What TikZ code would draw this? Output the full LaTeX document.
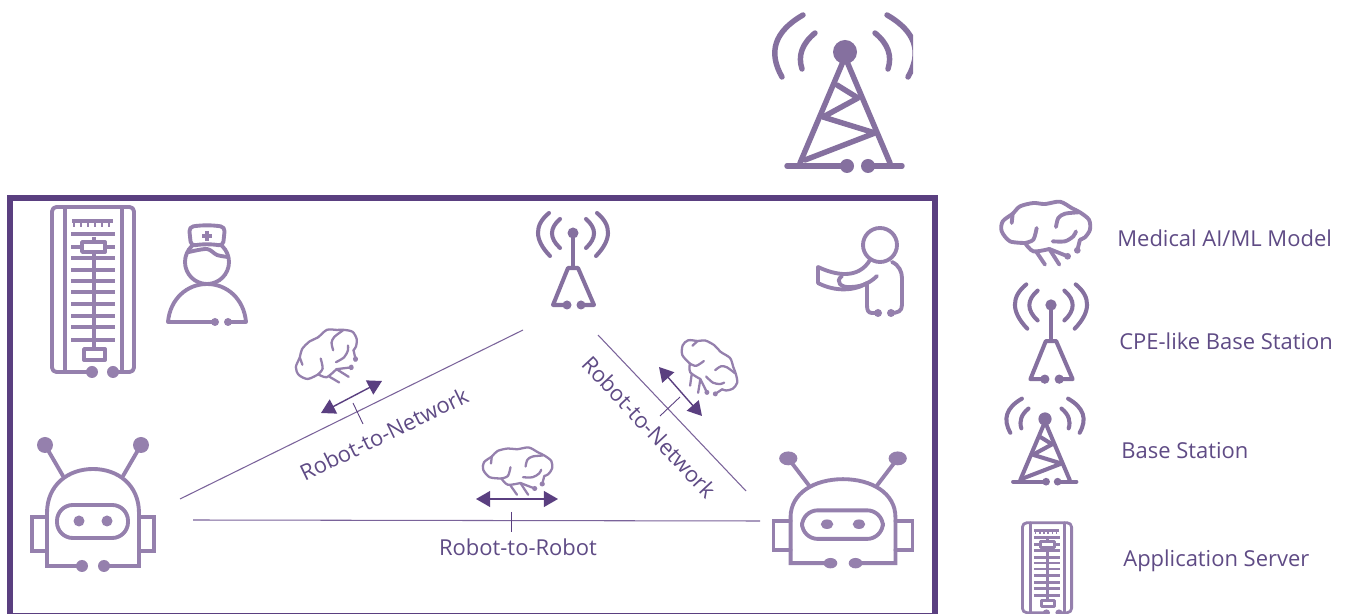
\documentclass[tikz,border=0pt]{standalone}
\usepackage{fontspec}
\setmainfont{Open Sans}
\usetikzlibrary{arrows.meta}
\definecolor{framepurple}{HTML}{5A3F80}
\definecolor{iconpurple}{HTML}{9580AD}
\definecolor{towerpurple}{HTML}{85709F}
\definecolor{textpurple}{HTML}{5F4B85}
\definecolor{linkpurple}{HTML}{7A639A}
\tikzset{
	iconline/.style={draw=iconpurple, line width=#1, line cap=round, line join=round},
	iconline/.default=2.2pt,
	towerline/.style={draw=towerpurple, line width=#1, line cap=round, line join=round},
	towerline/.default=2.2pt,
	linklabel/.style={text=textpurple, font=\fontsize{12.5}{15}\selectfont},
	legendlabel/.style={text=textpurple, font=\fontsize{12.5}{15}\selectfont, anchor=west, inner sep=0pt},
	linkline/.style={draw=linkpurple, line width=0.6pt},
	linktick/.style={draw=framepurple, line width=0.5pt},
	linkarrow/.style={draw=framepurple, line width=0.8pt, {Triangle[length=8pt,width=9pt]}-{Triangle[length=8pt,width=9pt]}},
	pics/bigtower/.style={code={
		\foreach \s in {-1,1} {
			\draw[towerline=#1] ({\s*30},-19) .. controls ({\s*43},-8.3) and ({\s*47.3},3.7) .. ({\s*43},17);
			\draw[towerline=#1] ({\s*42},-37) .. controls ({\s*71},-20.3) and ({\s*77},0.3) .. ({\s*63},25);
			\draw[towerline=#1] (0,5) -- ({\s*45},111);
		}
		\draw[towerline=#1] (-8,33) -- (13,46) -- (-22,65) -- (30,81) -- (-40,108);
		\draw[towerline=#1] (-58,114) -- (2,114);
		\draw[towerline=#1] (23,114) -- (57,114);
		\fill[towerpurple] (0,0) circle [radius=12];
		\fill[towerpurple] (2,114) circle [radius=7];
		\fill[towerpurple] (23,114) circle [radius=7];
	}},
	pics/cpetower/.style={code={
		\foreach \s in {-1,1} {
			\draw[towerline=2.3pt] ({\s*24},-20) .. controls ({\s*39},-7.7) and ({\s*38.7},6.7) .. ({\s*23},23);
			\draw[towerline=2.3pt] ({\s*13},-14) .. controls ({\s*23.7},-4.7) and ({\s*23.7},5) .. ({\s*13},15);
		}
		\draw[towerline=2.3pt] (0,0) -- (0,34);
		\draw[towerline=2.3pt] (-6,72) -- (-20,72) -- (-5,35) -- (5,35) -- (21,72) -- (8,72);
		\fill[towerpurple] (0,0) circle [radius=5.5];
		\fill[towerpurple] (-6,72) circle [radius=4.5];
		\fill[towerpurple] (8,72) circle [radius=4.5];
	}},
	pics/appserver/.style={code={
		\draw[iconline=#1, rounded corners=2.5pt] (-1,82) -- (-41,82) -- (-41,-83) -- (41,-83) -- (41,82) -- (20,82);
		\draw[iconline=#1] (-28,-83) -- (-28,82);
		\draw[iconline=#1] (29,-83) -- (29,82);
		\foreach \y in {-56,-43,-32,-20,-9,2,14,26,37,50} {
			\draw[iconline=#1, line cap=butt] (-22,\y) -- (22,\y);
		}
		\draw[iconline=#1, line cap=butt] (-21,-69) -- (20,-69);
		\foreach \x in {-19,-12,-5,2,9,16} {
			\draw[iconline=0.6*#1, line cap=butt] (\x,-69) -- (\x,-63);
		}
		\draw[iconline=#1, line cap=butt] (1,-53) -- (1,60);
		\filldraw[iconline=#1, fill=white] (-11,-48) rectangle (12,-38);
		\filldraw[iconline=#1, fill=white] (-9,59) rectangle (12,70);
		\fill[iconpurple] (-1,82) circle [radius=6];
		\fill[iconpurple] (20,82) circle [radius=6];
	}},
	pics/nurse/.style={code={
		\draw[iconline] (0,-13) circle [radius=22];
		\filldraw[iconline, fill=white, rounded corners=2.5pt] (-18,-48) .. controls (-5,-50) and (5,-50) .. (18,-48) -- (16,-29) .. controls (5,-31) and (-5,-31) .. (-16,-29) -- cycle;
		\draw[iconline] plot[smooth] coordinates {(-18,-23) (0,-26) (10,-20) (21,-18)};
		\draw[iconline, line width=2pt, line cap=butt] (-5,-39) -- (5,-39);
		\draw[iconline, line width=2pt, line cap=butt] (0,-44) -- (0,-34);
		\draw[iconline] (8,47) -- (-39,47) .. controls (-37,24) and (-20,9) .. (0,9) .. controls (20,9) and (37,24) .. (39,47) -- (21,47);
		\fill[iconpurple] (8,47) circle [radius=4];
		\fill[iconpurple] (21,47) circle [radius=4];
	}},
	pics/patient/.style={code={
		\draw[iconline] (0,0) circle [radius=17];
		\draw[iconline] (12,17) .. controls (19,20) and (22,27) .. (22,33) -- (22,60) .. controls (22,66) and (18,68) .. (11,68);
		\draw[iconline] (-2,68) -- (-8,68) .. controls (-12,68) and (-13,65) .. (-13,60) -- (-13,38) .. controls (-25,46) and (-45,47) .. (-62,38) -- (-62,22) .. controls (-45,30) and (-22,35) .. (-10,15);
		\draw[iconline] (-3,31) .. controls (-12,40) and (-22,42) .. (-30,42) .. controls (-38,43) and (-46,37) .. (-38,31);
		\fill[iconpurple] (11,68) circle [radius=4];
		\fill[iconpurple] (-2,68) circle [radius=4];
	}},
	pics/robot/.style={code={
		\draw[iconline, line join=miter, line cap=butt] (-11,51) -- (-46,51) -- (-46,-2) .. controls (-46,-30) and (-25,-46) .. (0,-46) .. controls (25,-46) and (46,-30) .. (46,-2) -- (46,51) -- (11,51);
		\draw[iconline, line join=miter] (-46,2) -- (-61,2) -- (-61,36) -- (-46,36);
		\draw[iconline, line join=miter] (46,2) -- (61,2) -- (61,36) -- (46,36);
		\draw[iconline, rounded corners=9pt] (-36,-10) rectangle (35,23);
		\draw[iconline] (-48,-70) -- (-30,-39);
		\draw[iconline] (48,-70) -- (30,-39);
		\fill[iconpurple] (-48,-70) circle [radius=8];
		\fill[iconpurple] (48,-70) circle [radius=8];
		\fill[iconpurple] (-14,6) circle [radius=5.5];
		\fill[iconpurple] (14,6) circle [radius=5.5];
		\fill[iconpurple] (-11,51) circle [radius=6];
		\fill[iconpurple] (11,51) circle [radius=6];
	}},
	pics/brain/.style={code={
		\begin{scope}[shift={(-165,-130)}]
			\draw[iconline=#1] plot[smooth] coordinates {(105,160) (60,155) (35,125) (38,95) (68,72) (90,50) (130,40) (165,43) (210,36) (245,55) (270,68) (297,90) (300,120) (285,143) (270,150)};
			\draw[iconline=#1] (270,150) -- (262,182);
			\draw[iconline=#1] (65,100) -- (68,72);
			\draw[iconline=#1] plot[smooth] coordinates {(105,160) (130,150) (140,115)};
			\draw[iconline=#1] plot[smooth] coordinates {(105,160) (130,185) (178,178)};
			\draw[iconline=#1] (178,178) -- (233,200);
			\draw[iconline=#1] (140,188) -- (165,225);
			\draw[iconline=#1] (178,178) -- (208,225);
			\draw[iconline=#1] plot[smooth] coordinates {(198,112) (205,85) (225,72) (265,68)};
			\draw[iconline=#1] plot[smooth] coordinates {(188,155) (225,155) (250,140) (258,125)};
			\fill[iconpurple] (262,182) circle [radius=10];
			\fill[iconpurple] (233,200) circle [radius=10];
		\end{scope}
	}},
}
\begin{document}
\begin{tikzpicture}[x=0.02cm, y=-0.02cm]
	\useasboundingbox (0,0) rectangle (1353,614);
	\fill[white] (0,0) rectangle (1353,614);
	% tower on top
	\begin{scope}
		\clip (700,13) rectangle (913,190);
		\pic at (845,52) {bigtower=3.1pt};
	\end{scope}
	\draw[framepurple, line width=3.4pt] (10,198) rectangle (935,616);
	% icons inside the frame
	\pic at (93,290) {appserver=2.2pt};
	\pic at (207,275) {nurse};
	\pic at (573,233) {cpetower};
	\pic at (880,245) {patient};
	\pic at (93,515) {robot};
	\pic[xscale=1.14, yscale=0.866] at (843,519) {robot};
	% brains
	\pic[xscale=0.25, yscale=0.28, rotate=28] at (328,359) {brain=1.3pt};
	\pic[xscale=0.25, yscale=0.25, rotate=-42] at (706,368) {brain=1.3pt};
	\pic[xscale=0.26, yscale=0.25] at (517,471) {brain=1.3pt};
	% links
	\coordinate (leftRobotUp) at (180,499);
	\coordinate (stationLeft) at (523,330);
	\coordinate (stationRight) at (598,335);
	\coordinate (rightRobotUp) at (746,491);
	\coordinate (leftRobotSide) at (193,520);
	\coordinate (rightRobotSide) at (760,521);
	\draw[linkline] (leftRobotUp) -- (stationLeft);
	\draw[linkline] (stationRight) -- (rightRobotUp);
	\draw[linkline] (leftRobotSide) -- (rightRobotSide);
	% ticks
	\coordinate (tickAtop) at (353,403);
	\coordinate (tickAbot) at (363,424);
	\coordinate (tickBtop) at (680,397);
	\coordinate (tickBbot) at (660,416);
	\coordinate (tickCtop) at (511,512);
	\coordinate (tickCbot) at (511,532);
	\draw[linktick] (tickAtop) -- (tickAbot);
	\draw[linktick] (tickBtop) -- (tickBbot);
	\draw[linktick] (tickCtop) -- (tickCbot);
	% model transfer arrows
	\coordinate (arrowAlow) at (321,413);
	\coordinate (arrowAhigh) at (382,381);
	\coordinate (arrowBhigh) at (659,367);
	\coordinate (arrowBlow) at (702,416);
	\coordinate (arrowCleft) at (476,499);
	\coordinate (arrowCright) at (558,499);
	\draw[linkarrow] (arrowAlow) -- (arrowAhigh);
	\draw[linkarrow] (arrowBhigh) -- (arrowBlow);
	\draw[linkarrow] (arrowCleft) -- (arrowCright);
	% link labels
	\node[linklabel, rotate=26] (networkLeft) at (384,434) {Robot-to-Network};
	\node[linklabel, rotate=-47] (networkRight) at (649,427) {Robot-to-Network};
	\node[linklabel] (robotLink) at (518,547) {Robot-to-Robot};
	% legend
	\pic[xscale=0.333, yscale=0.333] at (1045,233) {brain=2.2pt};
	\pic[scale=1.03] at (1051,305) {cpetower};
	\pic[scale=0.55] at (1045,419) {bigtower=2.3pt};
	\pic[xscale=0.6, yscale=0.545] at (1047,568) {appserver=1.6pt};
	\node[legendlabel] (legendBrain) at (1117,238) {Medical AI/ML Model};
	\node[legendlabel] (legendCpe) at (1119,341) {CPE-like Base Station};
	\node[legendlabel] (legendBase) at (1121,451) {Base Station};
	\node[legendlabel] (legendServer) at (1123,561) {Application Server};
\end{tikzpicture}
\end{document}
